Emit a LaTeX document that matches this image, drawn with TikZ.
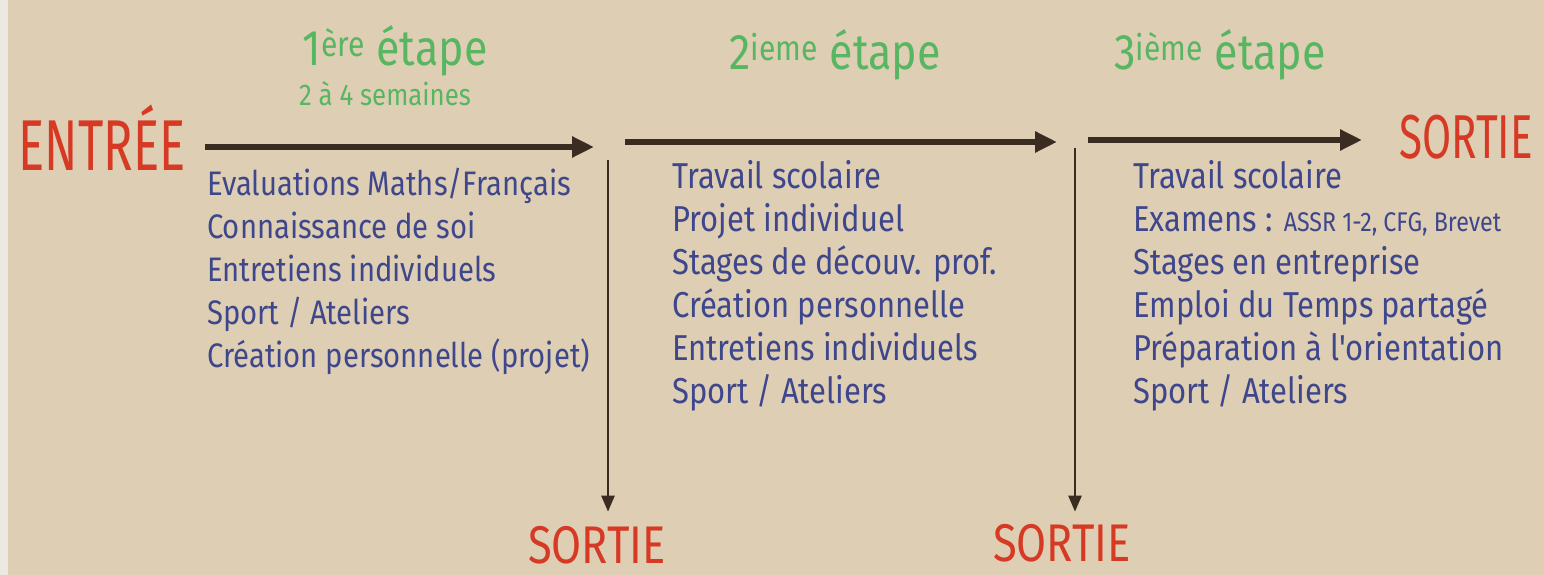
\documentclass[tikz,border=0pt]{standalone}
\usepackage{fontspec}
\setmainfont{Fira Sans}
\newfontfamily\narrowfont[FakeStretch=0.68]{Fira Sans}
\newfontfamily\widefont[FakeStretch=0.82]{Fira Sans}
\newfontfamily\handfont[FakeStretch=0.86]{Fira Sans}
\usetikzlibrary{arrows.meta,positioning}
\definecolor{papier}{RGB}{222,206,180}
\definecolor{mur}{RGB}{236,232,226}
\definecolor{encre}{RGB}{62,70,140}
\definecolor{vert}{RGB}{88,182,98}
\definecolor{rouge}{RGB}{214,58,36}
\definecolor{feutre}{RGB}{58,44,32}

\begin{document}
\begin{tikzpicture}[x=1pt,y=-1pt,
    fleche/.style={-{Triangle[length=22pt,width=20pt]},line width=5.5pt,draw=feutre},
    chute/.style={-{Triangle[length=16pt,width=13pt]},line width=2.6pt,draw=feutre},
    porte/.style={text=rouge,font=\narrowfont\fontsize{62}{62}\selectfont,inner sep=0pt,anchor=base},
    etape/.style={text=vert,font=\handfont\fontsize{50}{50}\selectfont,inner sep=0pt,anchor=base},
    liste/.style={text=encre,font=\handfont\fontsize{36}{43}\selectfont,align=left,anchor=north west,inner sep=0pt}]
    \fill[papier] (0,0) rectangle (1544,575);
    \fill[mur] (0,0) rectangle (8,575);
    \useasboundingbox (0,0) rectangle (1544,575);

    % entree et sorties
    \node[porte, font=\narrowfont\fontsize{72}{72}\selectfont] (entree)  at (102,170)  {ENTRÉE};
    \node[porte, font=\widefont\fontsize{53}{53}\selectfont]   (sortieA) at (597,563)  {SORTIE};
    \node[porte, font=\widefont\fontsize{53}{53}\selectfont]   (sortieB) at (1062,561) {SORTIE};
    \node[porte]                                               (sortieC) at (1466,158) {SORTIE};

    % etapes
    \node[etape] (etA) at (395,66) {1\textsuperscript{ère} étape};
    \node[etape, font=\handfont\fontsize{30}{30}\selectfont] (duree) at (385,106) {2 à 4 semaines};
    \node[etape] (etB) at (835,70)  {2\textsuperscript{ieme} étape};
    \node[etape] (etC) at (1220,70) {3\textsuperscript{ième} étape};

    % fleches
    \coordinate (dA) at (205,147);  \coordinate (fA) at (594,147);
    \coordinate (dB) at (625,142);  \coordinate (fB) at (1057,142);
    \coordinate (dC) at (1088,140); \coordinate (fC) at (1362,140);
    \coordinate (vA) at (608,160);
    \coordinate (vB) at (1075,148);
    \draw[fleche] (dA) -- (fA);
    \draw[fleche] (dB) -- (fB);
    \draw[fleche] (dC) -- (fC);
    \draw[chute] (vA) -- (vA |- sortieA.north) [shorten >=14pt];
    \draw[chute] (vB) -- (vB |- sortieB.north) [shorten >=12pt];

    % contenus
    \node[liste, font=\handfont\fontsize{34}{43}\selectfont] (listeA) at (207,168) {Evaluations Maths/Français\\Connaissance de soi\\Entretiens individuels\\Sport / Ateliers\\Création personnelle (projet)};
    \node[liste] (listeB) at (672,160) {Travail scolaire\\Projet individuel\\Stages de découv. prof.\\Création personnelle\\Entretiens individuels\\Sport / Ateliers};
    \node[liste] (listeC) at (1133,160) {Travail scolaire\\Examens : {\fontsize{27}{43}\selectfont ASSR 1-2, CFG, Brevet}\\Stages en entreprise\\Emploi du Temps partagé\\Préparation à l'orientation\\Sport / Ateliers};
\end{tikzpicture}
\end{document}
